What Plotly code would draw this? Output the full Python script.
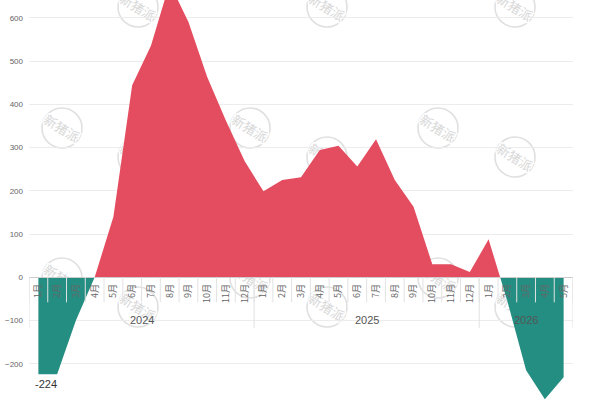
import base64
import plotly.graph_objects as go

# ---- data ----
years = ["2024"] * 12 + ["2025"] * 12 + ["2026"] * 5
months = [f"{m}月" for m in range(1, 13)] * 2 + [f"{m}月" for m in range(1, 6)]
values = [
    -224, -224, -100, 0, 140, 444, 535, 680, 590, 463, 362, 268,
    199, 225, 231, 294, 304, 256, 319, 225, 163, 30, 30, 12,
    88, -55, -215, -282, -231,
]
year_groups = ["2024", "2025", "2026"]
ytick_vals = [-200, -100, 0, 100, 200, 300, 400, 500, 600]

RED = "#E44D5F"
GREEN = "#258E82"

n = len(values)
idx = list(range(n))

# split into positive / negative parts with computed zero crossings
px_, py_, nx_, ny_ = [], [], [], []
for i in range(n):
    v = values[i]
    px_.append(i); py_.append(max(v, 0))
    nx_.append(i); ny_.append(min(v, 0))
    if i < n - 1:
        w = values[i + 1]
        if (v > 0 and w < 0) or (v < 0 and w > 0):
            xc = i + v / (v - w)
            px_.append(xc); py_.append(0)
            nx_.append(xc); ny_.append(0)

YMIN, YMAX = -283.6, 641
zero_frac = (0 - YMIN) / (YMAX - YMIN)
H = 400.0

fig = go.Figure()
fig.add_trace(go.Scatter(x=px_, y=py_, mode="lines", line=dict(width=0, color=RED),
                         fill="tozeroy", fillcolor=RED, hoverinfo="skip", showlegend=False))
fig.add_trace(go.Scatter(x=nx_, y=ny_, mode="lines", line=dict(width=0, color=GREEN),
                         fill="tozeroy", fillcolor=GREEN, hoverinfo="skip", showlegend=False))

# watermark svg
svg = ('<svg xmlns="http://www.w3.org/2000/svg" width="60" height="60" viewBox="0 0 60 60">'
       '<circle cx="30" cy="30" r="20" fill="none" stroke="#e0e0e0" stroke-width="1.6"/>'
       '<text x="30" y="30" font-family="Noto Sans CJK SC" font-size="13" fill="#d8d8d8" '
       'text-anchor="middle" dominant-baseline="central" transform="rotate(32 30 30)" '
       'stroke="white" stroke-width="2.5" paint-order="stroke">新猪派</text></svg>')
uri = "data:image/svg+xml;base64," + base64.b64encode(svg.encode("utf-8")).decode()
L, R = 29, 573
W = R - L
marks = [(62, 128), (250, 128), (438, 128), (62, 278), (250, 278), (438, 278),
         (138, 7), (327, 7), (515, 7), (138, 157), (327, 157), (515, 157),
         (138, 307), (327, 307), (515, 307)]
images = []
for (cx, cy) in marks:
    images.append(dict(source=uri, xref="paper", yref="paper",
                       x=(cx - L) / W, y=1 - cy / H, sizex=60 / W, sizey=60 / H,
                       xanchor="center", yanchor="middle", sizing="contain", layer="below"))

# separators (month boundaries) and year dividers
shapes = []
for b in range(n + 1):
    x = b - 0.5
    shapes.append(dict(type="line", xref="x", yref="paper", x0=x, x1=x,
                       y0=zero_frac, y1=zero_frac - 25 / H,
                       line=dict(color="#e2e2e2", width=1), layer="above"))
bounds = [-0.5]
for g in year_groups:
    bounds.append(bounds[-1] + years.count(g))
for x in bounds:
    shapes.append(dict(type="line", xref="x", yref="paper", x0=x, x1=x,
                       y0=zero_frac, y1=zero_frac - 51 / H,
                       line=dict(color="#e2e2e2", width=1), layer="above"))

annotations = []
for k, g in enumerate(year_groups):
    c = (bounds[k] + bounds[k + 1]) / 2
    annotations.append(dict(x=c, y=zero_frac, xref="x", yref="paper", text=g,
                            showarrow=False, yshift=-43, yanchor="middle",
                            font=dict(size=11, color="#555")))
annotations.append(dict(x=idx[0], y=values[0], xref="x", yref="y", text=str(values[0]),
                        showarrow=False, yshift=-10, xshift=8,
                        font=dict(size=11, color="#333")))

fig.update_layout(
    width=600, height=400,
    margin=dict(l=L, r=600 - R, t=0, b=0),
    paper_bgcolor="white", plot_bgcolor="rgba(0,0,0,0)",
    font=dict(family="Liberation Sans, Arial, sans-serif"),
    images=images, shapes=shapes, annotations=annotations,
    xaxis=dict(range=[-0.5, n - 0.5], anchor="free", position=zero_frac,
               tickmode="array", tickvals=idx, ticktext=months, tickangle=-90,
               tickfont=dict(size=9, color="#666", family="Noto Sans CJK SC, sans-serif"),
               showgrid=False, zeroline=False, showline=True, linecolor="#cccccc",
               linewidth=1, ticks="", ticklabelstandoff=2, fixedrange=True),
    yaxis=dict(range=[YMIN, YMAX], tickmode="array", tickvals=ytick_vals,
               tickfont=dict(size=8, color="#666"), showgrid=True, gridcolor="#ececec",
               gridwidth=1, zeroline=False, showline=False, ticks="",
               ticklabelstandoff=5, fixedrange=True),
)

fig.write_html("out.html")
